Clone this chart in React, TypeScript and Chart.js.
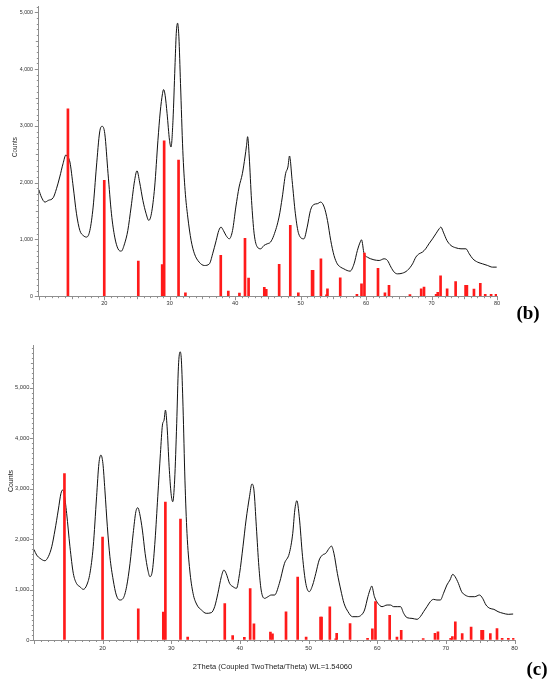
import React, { useEffect, useRef } from 'react';
import { Chart, registerables } from 'chart.js';

Chart.register(...registerables);

// ---- Reference stick pattern (2θ, counts) ----
const stickAngles = [
  14.45, 20.0, 25.2, 28.85, 29.15, 31.35, 32.4, 37.8, 38.95, 40.65, 41.5, 42.05, 44.45, 44.75,
  46.72, 48.42, 49.65, 51.75, 51.9, 53.1, 53.95, 54.1, 56.05, 58.6, 59.3, 59.75, 61.82, 62.88,
  63.5, 66.7, 68.42, 68.85, 70.7, 70.95, 71.38, 72.38, 73.68, 75.2, 75.4, 76.48, 77.45, 78.2,
  79.1, 79.85,
];
const stickCounts = [
  3300, 2040, 620, 555, 2735, 2400, 60, 720, 90, 55, 1020, 320, 155, 120,
  560, 1250, 60, 455, 455, 660, 25, 130, 325, 35, 220, 760, 490, 60,
  190, 30, 130, 160, 35, 70, 360, 128, 258, 192, 192, 125, 228, 35,
  35, 35,
];

// ---- Pattern (b) ----
const curveBAngles = [
  10.0, 10.4, 10.94, 11.45, 12.2, 12.7, 13.2, 13.7, 14.15, 14.3, 14.75, 15.26, 15.76, 16.27,
  16.78, 17.3, 17.8, 18.3, 18.8, 19.3, 19.67, 20.08, 20.58, 21.1, 21.6, 22.1, 22.6, 23.1,
  23.6, 24.1, 24.64, 25.0, 25.4, 25.9, 26.4, 26.8, 27.2, 27.7, 28.2, 28.55, 28.9, 29.06,
  29.3, 29.6, 29.97, 30.2, 30.5, 30.8, 31.0, 31.2, 31.4, 31.65, 32.0, 32.35, 32.76, 33.27,
  33.78, 34.5, 35.3, 36.06, 36.56, 37.1, 37.5, 37.84, 38.2, 38.6, 39.1, 39.6, 40.1, 40.6,
  41.1, 41.5, 41.74, 41.9, 42.15, 42.5, 42.9, 43.4, 43.9, 44.4, 44.9, 45.4, 45.9, 46.7,
  47.2, 47.7, 48.06, 48.3, 48.7, 49.2, 49.7, 50.5, 51.0, 51.5, 52.04, 52.55, 53.06, 53.6,
  54.1, 54.6, 55.1, 55.6, 56.1, 56.6, 57.1, 57.55, 58.16, 58.67, 59.1, 59.3, 59.7, 60.2,
  60.7, 61.2, 62.0, 62.75, 63.27, 63.8, 64.3, 64.8, 65.56, 66.3, 67.1, 67.6, 68.1, 68.6,
  69.1, 69.6, 70.15, 70.66, 71.17, 71.43, 71.8, 72.35, 72.96, 73.7, 74.5, 75.25, 75.76, 76.3,
  77.04, 77.8, 78.57, 79.3, 79.95,
];
const curveBCounts = [
  1876, 1746, 1658, 1688, 1735, 1893, 2100, 2334, 2490, 2470, 2364, 1923, 1452, 1158,
  1070, 1041, 1158, 1570, 2276, 2893, 2993, 2864, 2158, 1452, 1041, 835, 794, 923,
  1158, 1570, 2040, 2210, 2011, 1688, 1452, 1335, 1452, 1923, 2746, 3246, 3569, 3640,
  3540, 3216, 2746, 2628, 3099, 4040, 4628, 4810, 4569, 3746, 2570, 1864, 1394, 982,
  747, 600, 541, 570, 747, 982, 1158, 1217, 1158, 1070, 1011, 1158, 1570, 1923,
  2158, 2452, 2658, 2810, 2452, 1688, 1100, 864, 835, 894, 923, 953, 1070, 1394,
  1746, 2158, 2276, 2470, 2040, 1452, 1100, 1011, 1217, 1511, 1617, 1629, 1658, 1570,
  1335, 982, 717, 570, 512, 482, 453, 441, 570, 806, 953, 994, 747, 688,
  659, 641, 629, 659, 629, 512, 423, 394, 406, 453, 570, 688, 747, 776,
  835, 923, 1011, 1100, 1188, 1217, 1129, 982, 894, 853, 835, 835, 747, 659,
  600, 570, 541, 512, 512,
];

// ---- Pattern (c) ----
const curveCAngles = [
  10.0, 10.4, 10.9, 11.6, 12.1, 12.6, 13.07, 13.55, 13.94, 14.2, 14.4, 14.77, 15.25, 15.74,
  16.2, 16.7, 17.2, 17.7, 18.16, 18.64, 19.13, 19.47, 19.76, 20.05, 20.34, 20.7, 21.07, 21.55,
  22.0, 22.5, 23.0, 23.5, 24.0, 24.46, 24.85, 25.14, 25.4, 25.8, 26.2, 26.6, 26.9, 27.27,
  27.65, 28.04, 28.43, 28.72, 28.96, 29.16, 29.4, 29.7, 29.98, 30.22, 30.5, 30.8, 31.05, 31.3,
  31.48, 31.72, 32.0, 32.3, 32.7, 33.18, 33.76, 34.4, 35.1, 35.84, 36.33, 36.8, 37.3, 37.68,
  38.0, 38.5, 39.0, 39.5, 39.96, 40.45, 40.9, 41.4, 41.75, 42.05, 42.4, 42.77, 43.1, 43.6,
  44.1, 44.56, 45.05, 45.75, 46.5, 47.2, 47.7, 48.0, 48.3, 48.65, 49.13, 49.6, 50.1, 50.6,
  51.06, 51.55, 52.03, 52.5, 53.0, 53.33, 53.7, 54.2, 54.7, 55.17, 55.75, 56.4, 57.1, 57.7,
  58.16, 58.65, 59.03, 59.2, 59.6, 60.1, 60.7, 61.45, 61.93, 62.4, 63.0, 63.4, 63.86, 64.35,
  65.07, 65.8, 66.28, 66.76, 67.25, 67.73, 68.2, 68.7, 69.2, 69.66, 70.15, 70.6, 71.0, 71.35,
  71.83, 72.3, 72.8, 73.5, 74.2, 74.9, 75.36, 75.85, 76.4, 77.0, 77.6, 78.35, 79.1, 79.8,
];
const curveCCounts = [
  1797, 1685, 1619, 1572, 1652, 1850, 2180, 2577, 2907, 2975, 2907, 2511, 1850, 1321,
  1123, 1057, 1004, 1090, 1321, 1850, 2841, 3502, 3667, 3502, 2973, 2246, 1652, 1189,
  892, 793, 826, 1057, 1520, 2114, 2544, 2623, 2511, 2180, 1718, 1387, 1255, 1387,
  1982, 2841, 3700, 4262, 4361, 4559, 4228, 3436, 2907, 2742, 3171, 4295, 5418, 5715,
  5550, 4625, 3171, 2114, 1387, 925, 694, 595, 529, 542, 661, 925, 1255, 1387,
  1321, 1123, 1057, 1024, 1321, 1850, 2379, 2841, 3092, 2973, 2246, 1454, 991, 826,
  859, 892, 892, 1123, 1520, 1718, 2114, 2577, 2762, 2445, 1652, 1123, 958, 1090,
  1321, 1586, 1685, 1718, 1817, 1863, 1718, 1321, 991, 727, 562, 462, 462, 496,
  595, 859, 1024, 1070, 859, 727, 661, 694, 694, 661, 661, 661, 529, 443,
  429, 410, 462, 562, 661, 760, 806, 793, 793, 925, 1090, 1189, 1302, 1255,
  1123, 958, 892, 859, 859, 892, 826, 694, 628, 608, 562, 529, 509, 515,
];

// ---- Axis ticks ----
const xTickLabels = [20, 30, 40, 50, 60, 70, 80];
const yTickLabels = [0, 1000, 2000, 3000, 4000, 5000];
const X_MIN = 10;
const X_MAX = 80;

const FONT = "'Liberation Sans', Arial, sans-serif";
const AXIS_GRAY = '#8f8f8f';

const tickMarks = {
  id: 'tickMarks',
  afterDraw(chart: any) {
    const { ctx, chartArea } = chart;
    const xs = chart.scales.x;
    const ys = chart.scales.y;
    ctx.save();
    ctx.strokeStyle = AXIS_GRAY;
    ctx.lineWidth = 1;
    ctx.beginPath();
    xs.ticks.forEach((t: any) => {
      const v = Math.round(t.value);
      const len = v % 10 === 0 ? 4 : v % 5 === 0 ? 3 : 2;
      const px = Math.round(xs.getPixelForValue(t.value)) + 0.5;
      ctx.moveTo(px, chartArea.bottom);
      ctx.lineTo(px, chartArea.bottom + len);
    });
    ys.ticks.forEach((t: any) => {
      const v = Math.round(t.value);
      const len = v % 1000 === 0 ? 4 : v % 500 === 0 ? 3 : 2;
      const py = Math.round(ys.getPixelForValue(t.value)) + 0.5;
      ctx.moveTo(chartArea.left - len, py);
      ctx.lineTo(chartArea.left, py);
    });
    ctx.stroke();
    ctx.restore();
  },
};

type Panel = {
  angles: number[];
  counts: number[];
  yMax: number;
  pad: { top: number; right: number };
  yWidth: number;
  xHeight: number;
  tickFont: number;
  yPad: number;
  xPad: number;
};

function makeChart(canvas: HTMLCanvasElement, p: Panel) {
  const xTickValues: number[] = [];
  for (let v = X_MIN; v <= X_MAX; v += 1) xTickValues.push(v);
  const yTickValues: number[] = [];
  for (let v = 0; v <= p.yMax; v += 100) yTickValues.push(v);

  return new Chart(canvas, {
    type: 'bar',
    data: {
      datasets: [
        {
          type: 'line',
          data: p.angles.map((a, i) => ({ x: a, y: p.counts[i] })),
          borderColor: '#111',
          borderWidth: 1,
          pointRadius: 0,
          cubicInterpolationMode: 'monotone',
          order: 2,
        } as any,
        {
          type: 'bar',
          data: stickAngles.map((a, i) => ({ x: a, y: stickCounts[i] })),
          backgroundColor: '#ff1a1a',
          borderWidth: 0,
          barThickness: 2,
          order: 1,
        } as any,
      ],
    },
    options: {
      animation: false,
      responsive: false,
      maintainAspectRatio: false,
      layout: { padding: { left: 0, top: p.pad.top, right: p.pad.right, bottom: 0 } },
      plugins: { legend: { display: false }, tooltip: { enabled: false } },
      scales: {
        x: {
          type: 'linear',
          min: X_MIN,
          max: X_MAX,
          offset: false,
          afterBuildTicks: (s: any) => {
            s.ticks = xTickValues.map((v) => ({ value: v }));
          },
          afterFit: (s: any) => {
            s.height = p.xHeight;
          },
          ticks: {
            autoSkip: false,
            maxRotation: 0,
            minRotation: 0,
            padding: p.xPad,
            color: '#333',
            font: { family: FONT, size: p.tickFont },
            callback: (v: any) => (xTickLabels.includes(Math.round(v)) ? String(Math.round(v)) : ''),
          },
          grid: { display: true, drawOnChartArea: false, drawTicks: true, tickLength: 4, tickColor: 'rgba(0,0,0,0)' },
          border: { display: true, color: AXIS_GRAY, width: 1 },
        },
        y: {
          type: 'linear',
          min: 0,
          max: p.yMax,
          afterBuildTicks: (s: any) => {
            s.ticks = yTickValues.map((v) => ({ value: v }));
          },
          afterFit: (s: any) => {
            s.width = p.yWidth;
          },
          ticks: {
            autoSkip: false,
            padding: p.yPad,
            color: '#333',
            font: { family: FONT, size: p.tickFont - 0.3 },
            callback: (v: any) =>
              yTickLabels.includes(Math.round(v)) ? Math.round(v).toLocaleString('en-US') : '',
          },
          grid: { display: true, drawOnChartArea: false, drawTicks: true, tickLength: 4, tickColor: 'rgba(0,0,0,0)' },
          border: { display: true, color: AXIS_GRAY, width: 1 },
        },
      },
    } as any,
    plugins: [tickMarks],
  });
}

const panelB: Panel = {
  angles: curveBAngles,
  counts: curveBCounts,
  yMax: 5100,
  pad: { top: 6.7, right: 53 },
  yWidth: 38.8,
  xHeight: 33.8,
  tickFont: 5.6,
  yPad: 1.8,
  xPad: 0,
};

const panelC: Panel = {
  angles: curveCAngles,
  counts: curveCCounts,
  yMax: 5850,
  pad: { top: 15, right: 35.5 },
  yWidth: 33.9,
  xHeight: 41,
  tickFont: 6.0,
  yPad: 0.6,
  xPad: 0.8,
};

const textBase: React.CSSProperties = {
  position: 'absolute',
  whiteSpace: 'nowrap',
  transform: 'translate(-50%, -50%)',
  lineHeight: 1,
  color: '#222',
};

export default function App() {
  const refB = useRef<HTMLCanvasElement>(null);
  const refC = useRef<HTMLCanvasElement>(null);

  useEffect(() => {
    const cb = makeChart(refB.current!, panelB);
    const cc = makeChart(refC.current!, panelC);
    return () => {
      cb.destroy();
      cc.destroy();
    };
  }, []);

  return (
    <div style={{ position: 'absolute', left: 0, top: 0, width: 550, height: 681, background: '#fff', overflow: 'hidden' }}>
      <canvas ref={refB} width={550} height={330} style={{ position: 'absolute', left: 0, top: 0, width: 550, height: 330 }} />
      <canvas ref={refC} width={550} height={351} style={{ position: 'absolute', left: 0, top: 330, width: 550, height: 351 }} />
      <div style={{ ...textBase, left: 15, top: 146.7, fontFamily: FONT, fontSize: 6.3, transform: 'translate(-50%, -50%) rotate(-90deg)' }}>Counts</div>
      <div style={{ ...textBase, left: 10, top: 481, fontFamily: FONT, fontSize: 7, transform: 'translate(-50%, -50%) rotate(-90deg)' }}>Counts</div>
      <div style={{ ...textBase, left: 272.5, top: 667, fontFamily: FONT, fontSize: 7.5 }}>2Theta (Coupled TwoTheta/Theta) WL=1.54060</div>
      <div style={{ ...textBase, left: 528, top: 311.5, fontFamily: "'Liberation Serif', 'Times New Roman', serif", fontSize: 19, fontWeight: 'bold', color: '#000' }}>(b)</div>
      <div style={{ ...textBase, left: 537, top: 668, fontFamily: "'Liberation Serif', 'Times New Roman', serif", fontSize: 19, fontWeight: 'bold', color: '#000' }}>(c)</div>
    </div>
  );
}
